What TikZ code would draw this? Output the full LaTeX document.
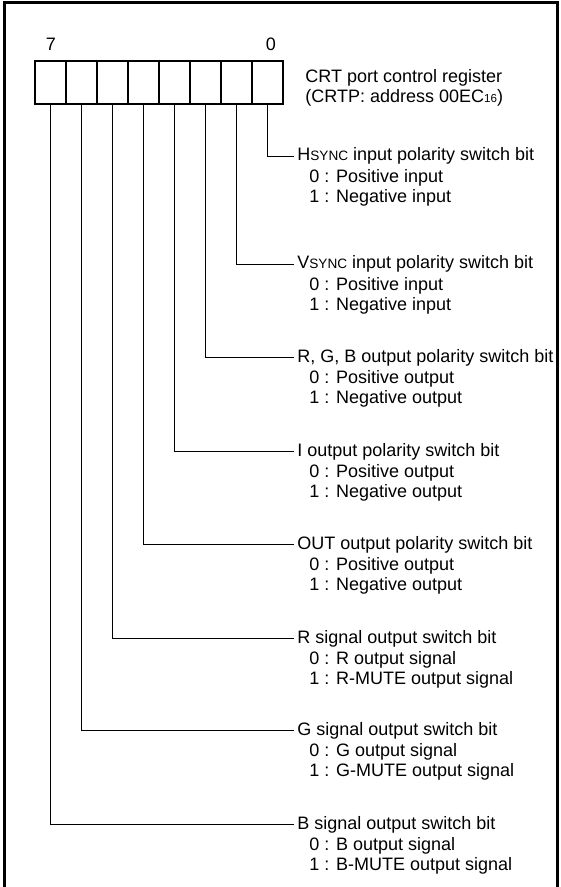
\documentclass[tikz,border=0pt]{standalone}
\usepackage{fontspec}
\setmainfont{Liberation Sans}
\usetikzlibrary{positioning}
\newcommand{\smallcap}[1]{{\fontsize{6.8}{7}\selectfont #1}}
\newcommand{\hexsub}[1]{{\fontsize{5.8}{6}\selectfont #1}}

\begin{document}
\begin{tikzpicture}[x=0.5pt, y=-0.5pt, font=\fontsize{9}{10.2}\selectfont,
  cell/.style={draw, line width=1.2pt, minimum width=15.5pt, minimum height=21.5pt, inner sep=0pt, outer sep=0pt},
  lead/.style={line width=0.7pt},
  bitname/.style={anchor=base west, inner sep=1.5pt},
  bitval/.style={anchor=north west, align=left, inner sep=0pt}]
  \useasboundingbox (0,0) rectangle (561,887);
  % Frame (open at the bottom)
  \draw[line width=1.5pt] (4,887) -- (4,3) -- (557,3) -- (557,887);
  % Register cells, bit 7 on the left
  \node[cell, anchor=north west] (b7) at (35,61) {};
  \foreach \i [remember=\i as \prev (initially 7)] in {6,...,0}
    \node[cell, right=0pt of b\prev] (b\i) {};
  \node (n7) at (51,44) {7};
  \node (n0) at (271,44) {0};
  % Register name
  \node[bitval] (reg) at (305,69) {CRT port control register\\(CRTP: address 00EC\hexsub{16})};
  % Bit descriptions with their leads
  \foreach \b/\lvl/\nm/\va/\vb in {
    0/155/{H\smallcap{SYNC} input polarity switch bit}/Positive input/Negative input,
    1/263/{V\smallcap{SYNC} input polarity switch bit}/Positive input/Negative input,
    2/356/{R, G, B output polarity switch bit}/Positive output/Negative output,
    3/450/{I output polarity switch bit}/Positive output/Negative output,
    4/543/{OUT output polarity switch bit}/Positive output/Negative output,
    5/637/{R signal output switch bit}/R output signal/R-MUTE output signal,
    6/729/{G signal output switch bit}/G output signal/G-MUTE output signal,
    7/823/{B signal output switch bit}/B output signal/B-MUTE output signal}
  {
    \node[bitname] (t\b) at (294,\lvl+6) {\nm};
    \node[bitval] (v\b) at (309,\lvl+14) {0 : \va\\1 : \vb};
    \draw[lead] (b\b.south) |- (t\b.west);
  }
\end{tikzpicture}
\end{document}
